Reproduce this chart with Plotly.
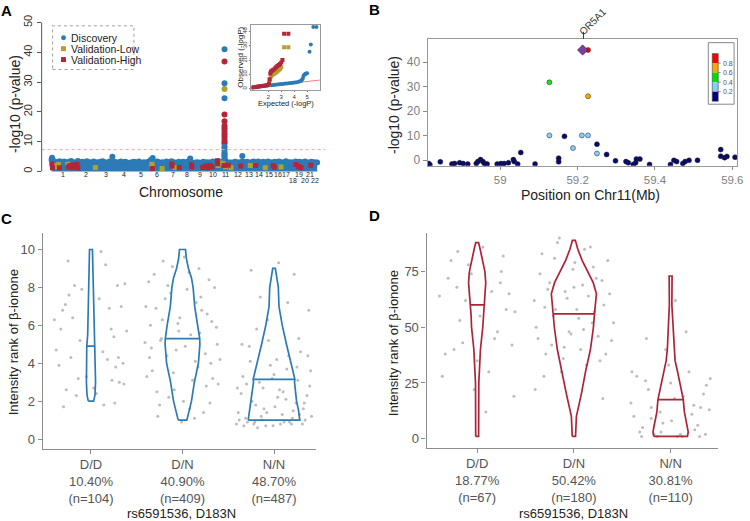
import numpy as np
import plotly.graph_objects as go

W, H = 750, 521
FONT = "Liberation Sans, Arial, sans-serif"
BLUE = "#2C7BB6"
OLIVE = "#B3A02C"
RED = "#B3263A"
CBLUE = "#2B7BB5"
DRED = "#AD2437"
GREY_PT = "#BDBDBD"

# ---------------- Panel A: Manhattan ----------------
CHR_NAMES = [str(i) for i in range(1, 23)]
CHR_LEN = [249, 243, 198, 191, 181, 171, 159, 146, 141, 136, 135, 134,
           115, 107, 102, 90, 81, 78, 59, 63, 48, 51]
BAND_TOP = [
    [3.9, 3.2, 3.0, 3.4, 3.1, 3.3, 2.9, 3.2, 3.5, 3.0],
    [3.1, 3.5, 3.0, 3.2, 2.9, 3.4, 3.1, 3.0, 3.3, 3.1],
    [3.0, 3.2, 3.4, 3.1, 2.9, 3.3, 3.0, 3.2],
    [3.1, 2.9, 3.3, 3.0, 3.2, 3.0, 2.8, 3.1],
    [3.2, 3.0, 3.3, 2.9, 3.1, 3.0, 3.2],
    [3.8, 3.1, 3.0, 3.3, 2.9, 3.1, 3.0],
    [3.3, 3.0, 3.4, 3.1, 2.9, 3.2],
    [3.0, 3.2, 2.9, 3.3, 3.6, 3.0],
    [2.9, 3.1, 3.0, 2.8, 3.2, 3.0],
    [3.1, 3.0, 3.3, 3.0, 3.4],
    [3.2, 3.0, 3.6, 3.1, 3.0],
    [3.0, 3.2, 3.0, 3.1, 3.3],
    [3.0, 3.2, 2.9, 3.1, 3.3],
    [3.1, 3.3, 3.0, 3.2],
    [3.0, 3.3, 3.1, 3.0],
    [3.2, 3.0, 3.3, 3.1],
    [3.0, 3.4, 3.1],
    [3.1, 3.0, 3.3],
    [3.0, 3.2, 3.0],
    [3.1, 3.3, 3.0],
    [3.0, 3.2],
    [3.1, 3.0],
]
PEAK_CHR = [1, 3, 6, 8, 12]
PEAK_POS = [5, 167, 34, 110, 117]
PEAK_Y = [4.6, 4.9, 4.5, 4.3, 5.2]

TOWER_POS = 59.2  # chr11, Mb
TOWER_BLUE = [41.0, 29.6, 24.6, 8.3, 7.2, 6.0, 5.0, 4.4]
TOWER_RED = [36.9, 19.1, 16.8, 15.3, 14.2, 13.3, 12.5, 11.6, 10.3, 9.4, 5.5]
TOWER_OLIVE = [27.7, 14.7, 11.0, 9.8, 8.0, 6.5]

VH_CHR = [1, 1, 1, 1, 1, 1, 1, 2, 2, 2, 6, 7, 7, 7, 8, 8, 9, 9, 10, 10, 10, 10, 10,
          11, 11, 12, 14, 15, 16, 18, 19, 19, 21]
VH_POS = [3, 10, 85, 180, 200, 220, 240, 10, 25, 35, 30, 70, 72, 150, 125, 128, 100, 130,
          15, 40, 60, 118, 120, 55, 100, 100, 12, 95, 5, 70, 20, 45, 30]
VH_Y = [2.5, 1.2, 1.2, 1.5, 2.0, 1.2, 2.2, 1.6, 2.4, 1.1, 1.0, 2.5, 1.8, 1.3, 2.2, 1.5, 1.3, 1.8,
        1.2, 2.0, 1.5, 3.6, 2.6, 2.0, 2.1, 1.8, 2.0, 2.0, 1.4, 2.3, 1.6, 1.2, 2.1]
VL_CHR = [1, 1, 1, 1, 2, 6, 6, 6, 7, 10, 10, 11, 11, 11, 13, 15, 16]
VL_POS = [30, 60, 75, 175, 225, 25, 28, 135, 105, 30, 125, 40, 70, 130, 70, 10, 78]
VL_Y = [2.0, 1.5, 2.3, 2.4, 1.3, 2.4, 1.6, 1.0, 1.3, 1.6, 2.0, 2.8, 1.5, 1.2, 2.0, 1.2, 1.5]
GW_LINE = 7.3

# QQ inset
QQ_BLUE_X = [0.75, 0.9, 1.05, 1.2, 1.35, 1.5, 1.65, 1.8, 1.95, 2.1, 2.25, 2.4, 2.55, 2.7, 2.85,
             3.0, 3.15, 3.3, 3.45, 3.6, 3.75, 3.9, 4.05, 4.2, 4.35, 4.45, 4.55, 4.62, 4.68, 4.73,
             4.8, 4.87, 4.93, 5.0, 5.19, 5.29, 5.48, 5.73]
QQ_BLUE_Y = [0.6, 0.8, 1.0, 1.2, 1.4, 1.6, 1.8, 2.0, 2.1, 2.3, 2.4, 2.6, 2.7, 2.9, 3.0,
             3.2, 3.3, 3.5, 3.6, 3.8, 3.9, 4.1, 4.3, 4.5, 4.8, 5.1, 5.5, 6.3, 7.5, 9.0,
             9.8, 10.3, 10.6, 10.8, 25.7, 30.8, 43.0, 43.0]
QQ_RED_X = [0.75, 0.9, 1.05, 1.2, 1.35, 1.5, 1.65, 1.8, 1.95, 2.05, 2.1, 2.15, 2.2, 2.3, 2.4,
            2.5, 2.6, 2.7, 2.8, 2.9, 3.0, 3.09, 3.22, 3.55]
QQ_RED_Y = [0.8, 1.0, 1.2, 1.4, 1.6, 1.8, 2.0, 2.2, 2.6, 3.5, 6.5, 10.5, 12.0, 12.6, 13.2,
            14.0, 15.0, 15.8, 16.5, 17.3, 18.2, 20.0, 38.4, 38.4]
QQ_OLIVE_X = [2.05, 2.1, 2.2, 2.3, 2.4, 2.5, 2.6, 2.7, 2.8, 2.9, 3.0, 3.22, 3.55]
QQ_OLIVE_Y = [3.0, 6.0, 8.5, 9.5, 10.2, 10.8, 11.4, 12.0, 12.8, 13.8, 15.0, 29.0, 29.0]

# ---------------- Panel B: regional plot ----------------
B_NAVY_X = [58.815, 58.818, 58.845, 58.875, 58.882, 58.895, 58.904, 58.916, 58.938, 58.942,
            58.949, 58.955, 58.959, 58.966, 58.992, 59.002, 59.010, 59.021, 59.034, 59.036,
            59.045, 59.053, 59.090, 59.151, 59.151, 59.166, 59.250, 59.275, 59.298, 59.325,
            59.331, 59.344, 59.350, 59.352, 59.361, 59.386, 59.440, 59.449, 59.456, 59.472,
            59.478, 59.488, 59.510, 59.570, 59.570, 59.580, 59.586, 59.607]
B_NAVY_Y = [-1.4, -1.9, -0.7, -1.6, -1.4, -1.1, -1.4, -1.6, -1.4, -0.6,
            0.2, -0.6, -1.4, -1.6, -1.6, -1.4, -1.4, -1.1, 0.2, -0.6,
            -1.6, 3.1, -1.6, 0.8, -0.7, 9.7, 6.5, 2.3, -0.3, -0.6,
            -1.1, -1.8, -1.1, 0.4, 0.4, -1.8, -1.8, -0.1, -0.6, -1.4,
            -0.6, -0.1, -0.1, 4.3, 1.6, 1.0, 1.5, 1.2]
B_LB_X = [59.127, 59.188, 59.211, 59.227, 59.250]
B_LB_Y = [10.1, 4.9, 10.1, 10.1, 2.7]
B_GREEN_X, B_GREEN_Y = [59.127], [31.8]
B_ORANGE_X, B_ORANGE_Y = [59.227], [26.1]
B_RED_X, B_RED_Y = [59.227], [45.0]
B_LEAD_X, B_LEAD_Y = [59.213], [45.0]
GENE_NAME, GENE_POS = "OR5A1", 59.215
LD_COLORS = ["#FF0000", "#FFA500", "#00E000", "#87CEFA", "#000080"]
LD_LABELS = ["0.8", "0.6", "0.4", "0.2"]

# ---------------- Panels C & D: violins ----------------
GENO = ["D/D", "D/N", "N/N"]
C_PCT = ["10.40%", "40.90%", "48.70%"]
C_N = [104, 409, 487]
D_PCT = ["18.77%", "50.42%", "30.81%"]
D_N = [67, 180, 110]
C_MED = [4.9, 5.3, 3.15]
D_MED = [60, 56, 17.5]

# violin outlines: rank values and half-widths (in category units)
C_V_Y = [
    [2, 2.3, 3, 4, 4.9, 5.5, 7, 9, 10],
    [1, 1.5, 2, 3, 4, 5, 5.3, 6, 7, 8, 8.5, 9, 9.5, 10],
    [1, 1.5, 2, 2.5, 3, 3.15, 4, 5, 6, 7, 8, 8.5, 9],
]
C_V_W = [
    [0.029, 0.043, 0.050, 0.052, 0.046, 0.036, 0.027, 0.022, 0.016],
    [0.047, 0.073, 0.098, 0.130, 0.174, 0.190, 0.188, 0.168, 0.133, 0.116, 0.098, 0.065, 0.043, 0.033],
    [0.282, 0.268, 0.246, 0.235, 0.224, 0.228, 0.184, 0.136, 0.090, 0.054, 0.047, 0.033, 0.014],
]
D_V_Y = [
    [1, 10, 25, 40, 50, 55, 60, 65, 70, 75, 80, 85, 88],
    [1, 10, 20, 25, 30, 40, 50, 56, 60, 65, 70, 75, 80, 85, 89],
    [1, 3, 5, 8, 12, 17.5, 20, 25, 30, 35, 40, 50, 60, 73],
]
D_V_W = [
    [0.015, 0.016, 0.017, 0.034, 0.058, 0.062, 0.072, 0.082, 0.089, 0.080, 0.059, 0.031, 0.015],
    [0.017, 0.026, 0.077, 0.099, 0.120, 0.171, 0.202, 0.213, 0.226, 0.233, 0.200, 0.141, 0.085, 0.041, 0.015],
    [0.174, 0.182, 0.174, 0.162, 0.142, 0.131, 0.120, 0.097, 0.072, 0.046, 0.034, 0.026, 0.013, 0.015],
]

# jittered raw points (offset from category centre, value)
C_DD_DX = [-0.38, -0.31, -0.25, -0.18, -0.12, -0.05, 0.03, 0.09, 0.16, 0.22, 0.29, 0.35, -0.35, -0.27,
           -0.2, -0.1, 0.06, 0.13, 0.2, 0.27, 0.33, 0.39, -0.4, -0.3, -0.22, -0.14, 0.11, 0.18, 0.25,
           0.31, 0.37, -0.33, -0.24, -0.16, 0.14, 0.23, 0.3, 0.36, -0.28, 0.26]
C_DD_Y = [4.7, 6.8, 9.4, 8.1, 5.2, 3.3, 2.7, 7.4, 9.2, 5.8, 8.1, 4.0, 3.9, 2.6, 6.4, 7.9, 2.4, 4.6,
          6.9, 3.8, 7.0, 5.7, 6.3, 1.7, 4.3, 3.2, 9.9, 4.2, 5.4, 3.0, 8.2, 5.8, 7.6, 2.3, 1.8, 3.1,
          4.3, 2.9, 7.1, 1.9]
C_DN_DX = [-0.41, -0.37, -0.33, -0.29, -0.25, -0.21, -0.17, -0.13, -0.09, -0.05, -0.01, 0.03, 0.07,
           0.11, 0.15, 0.19, 0.23, 0.27, 0.31, 0.35, 0.39,
           -0.39, -0.35, -0.31, -0.27, -0.23, -0.19, -0.15, -0.11, -0.07, -0.03, 0.01, 0.05, 0.09,
           0.13, 0.17, 0.21, 0.25, 0.29, 0.33, 0.37, 0.41,
           -0.4, -0.34, -0.28, -0.22, -0.16, -0.1, -0.04, 0.02, 0.08, 0.14, 0.2, 0.26, 0.32, 0.38,
           -0.36, -0.24, 0.18, 0.3]
C_DN_Y = [5.1, 8.3, 3.6, 6.9, 1.8, 9.4, 4.4, 7.7, 2.6, 6.1, 0.9, 4.9, 8.8, 3.1, 7.2, 5.6, 1.4, 6.6,
          4.0, 8.0, 2.9,
          3.3, 6.0, 8.7, 1.2, 5.3, 7.4, 2.2, 9.1, 4.7, 6.4, 2.0, 7.9, 5.5, 1.1, 3.8, 6.8, 4.5, 8.4,
          3.2, 5.9, 4.2,
          7.0, 4.8, 2.5, 6.3, 8.1, 3.5, 5.7, 9.6, 1.6, 4.1, 7.5, 2.8, 6.2, 5.0, 4.3, 5.2, 9.0, 1.9]
C_NN_DX = [-0.41, -0.36, -0.31, -0.26, -0.21, -0.16, -0.11, -0.06, -0.01, 0.04, 0.09, 0.14, 0.19,
           0.24, 0.29, 0.34, 0.39,
           -0.39, -0.34, -0.29, -0.24, -0.19, -0.14, -0.09, -0.04, 0.01, 0.06, 0.11, 0.16, 0.21,
           0.26, 0.31, 0.36, 0.41,
           -0.4, -0.33, -0.27, -0.2, -0.13, -0.07, 0.0, 0.07, 0.13, 0.2, 0.27, 0.33, 0.4,
           -0.38, -0.3, -0.22, -0.15, -0.08, 0.03, 0.1, 0.17, 0.25, 0.32, 0.38,
           -0.35, -0.25, -0.12, 0.05, 0.15, 0.28, 0.37, -0.18, 0.22, -0.02]
C_NN_Y = [0.8, 2.4, 1.1, 4.1, 0.9, 3.0, 1.6, 5.2, 0.7, 2.2, 1.3, 3.7, 0.8, 1.9, 4.6, 1.0, 2.8,
          1.4, 3.3, 0.9, 2.0, 5.8, 1.2, 0.7, 3.9, 1.7, 2.6, 0.9, 4.4, 1.5, 3.1, 0.8, 2.3, 1.2,
          2.7, 0.7, 4.9, 1.8, 1.0, 6.3, 3.4, 0.8, 2.1, 1.1, 5.3, 1.9, 3.6,
          1.0, 2.9, 0.8, 7.5, 1.4, 4.2, 2.5, 0.9, 3.8, 1.6, 6.8,
          5.0, 8.9, 2.7, 9.3, 7.2, 1.3, 4.4, 0.6, 8.7, 3.2]
D_DD_DX = [-0.39, -0.33, -0.27, -0.21, -0.15, -0.09, -0.03, 0.03, 0.09, 0.15, 0.21, 0.27, 0.33, 0.39,
           -0.36, -0.3, -0.24, -0.18, -0.12, -0.06, 0.06, 0.12, 0.18, 0.24, 0.3, 0.36,
           -0.2, 0.0, 0.25, 0.38]
D_DD_Y = [64, 38, 80, 68, 43, 78, 22, 55, 12, 66, 48, 82, 65, 57,
          28, 72, 40, 53, 62, 74, 86, 30, 45, 70, 58, 42,
          84, 35, 75, 19]
D_DN_DX = [-0.41, -0.37, -0.33, -0.29, -0.25, -0.21, -0.17, -0.13, -0.09, -0.05, -0.01, 0.03, 0.07,
           0.11, 0.15, 0.19, 0.23, 0.27, 0.31, 0.35, 0.39,
           -0.39, -0.35, -0.31, -0.27, -0.23, -0.19, -0.15, -0.11, -0.07, -0.03, 0.01, 0.05, 0.09,
           0.13, 0.17, 0.21, 0.25, 0.29, 0.33, 0.37, 0.41,
           -0.4, -0.3, -0.2, -0.1, 0.0, 0.1, 0.2, 0.3]
D_DN_Y = [62, 45, 83, 38, 70, 55, 88, 30, 66, 48, 76, 58, 40, 85, 64, 52, 72, 35, 60, 80, 44,
          50, 74, 28, 67, 42, 58, 90, 36, 63, 47, 79, 54, 69, 33, 86, 57, 46, 71, 38, 65, 52,
          22, 59, 81, 41, 68, 49, 77, 18]
D_NN_DX = [-0.41, -0.35, -0.29, -0.23, -0.17, -0.11, -0.05, 0.01, 0.07, 0.13, 0.19, 0.25, 0.31, 0.37,
           -0.38, -0.32, -0.26, -0.2, -0.14, -0.08, -0.02, 0.04, 0.1, 0.16, 0.22, 0.28, 0.34, 0.4,
           -0.4, -0.3, -0.2, -0.1, 0.0, 0.12, 0.24, 0.36, -0.25, 0.05, 0.3, 0.41]
D_NN_Y = [16, 28, 5, 22, 2, 12, 40, 8, 1, 19, 30, 4, 14, 24,
          10, 3, 26, 14, 1, 7, 33, 18, 2, 48, 11, 6, 20, 13,
          30, 1, 9, 3, 25, 1, 15, 2, 45, 62, 1, 27]


def xf(p):
    return p / W


def yf(p):
    return 1 - p / H


fig = go.Figure()
shapes, annotations = [], []

# ---------- Panel A traces ----------
starts = np.concatenate([[0], np.cumsum(CHR_LEN)[:-1]])
centers = starts + np.array(CHR_LEN) / 2.0
env_x, env_y = [0.0], [BAND_TOP[0][0]]
for s, L, hs in zip(starts, CHR_LEN, BAND_TOP):
    n = len(hs)
    for j, h in enumerate(hs):
        env_x.append(s + L * (j + 0.5) / n)
        env_y.append(h)
env_x.append(float(sum(CHR_LEN)))
env_y.append(BAND_TOP[-1][-1])
fig.add_trace(go.Scatter(x=env_x, y=env_y, mode="lines+markers", fill="tozeroy", fillcolor=BLUE,
                         line=dict(width=0, color=BLUE), marker=dict(color=BLUE, size=6),
                         xaxis="x", yaxis="y", hoverinfo="skip"))
fig.add_trace(go.Scatter(x=[starts[c - 1] + p for c, p in zip(PEAK_CHR, PEAK_POS)], y=PEAK_Y,
                         mode="markers", marker=dict(color=BLUE, size=6), xaxis="x", yaxis="y"))
tx = starts[10] + TOWER_POS
fig.add_trace(go.Scatter(x=[starts[c - 1] + p for c, p in zip(VL_CHR, VL_POS)], y=VL_Y,
                         mode="markers", marker=dict(color=OLIVE, size=5, symbol="square"),
                         xaxis="x", yaxis="y"))
fig.add_trace(go.Scatter(x=[starts[c - 1] + p for c, p in zip(VH_CHR, VH_POS)], y=VH_Y,
                         mode="markers", marker=dict(color=RED, size=5, symbol="square"),
                         xaxis="x", yaxis="y"))
fig.add_trace(go.Scatter(x=[tx] * len(TOWER_OLIVE), y=TOWER_OLIVE, mode="markers",
                         marker=dict(color=OLIVE, size=6), xaxis="x", yaxis="y"))
fig.add_trace(go.Scatter(x=[tx] * len(TOWER_RED), y=TOWER_RED, mode="markers",
                         marker=dict(color=RED, size=6), xaxis="x", yaxis="y"))
fig.add_trace(go.Scatter(x=[tx] * len(TOWER_BLUE), y=TOWER_BLUE, mode="markers",
                         marker=dict(color=BLUE, size=6), xaxis="x", yaxis="y"))
shapes.append(dict(type="line", xref="paper", yref="y", x0=xf(42), x1=xf(328), y0=GW_LINE, y1=GW_LINE,
                   line=dict(color="#F4A0A0", width=1, dash="dot")))
shapes.append(dict(type="line", xref="paper", yref="y", x0=xf(42), x1=xf(42), y0=0, y1=50,
                   line=dict(color="#555", width=1)))
for i, name in enumerate(CHR_NAMES):
    low = name in ("18", "20", "22")
    annotations.append(dict(x=centers[i], y=yf(179.5 if low else 174), xref="x", yref="paper",
                            text=name, showarrow=False, font=dict(size=7, color="#222"),
                            xanchor="center", yanchor="middle"))

# QQ inset
fig.add_trace(go.Scatter(x=[0, 6.2], y=[0, 6.2], mode="lines", line=dict(color="#F08080", width=1),
                         xaxis="x2", yaxis="y2"))
fig.add_trace(go.Scatter(x=QQ_BLUE_X, y=QQ_BLUE_Y, mode="markers", marker=dict(color=BLUE, size=4),
                         xaxis="x2", yaxis="y2"))
fig.add_trace(go.Scatter(x=QQ_OLIVE_X, y=QQ_OLIVE_Y, mode="markers",
                         marker=dict(color=OLIVE, size=4, symbol="square"), xaxis="x2", yaxis="y2"))
fig.add_trace(go.Scatter(x=QQ_RED_X, y=QQ_RED_Y, mode="markers",
                         marker=dict(color=RED, size=4, symbol="square"), xaxis="x2", yaxis="y2"))

# legend (manual, dashed box)
shapes.append(dict(type="rect", xref="paper", yref="paper", x0=xf(53), x1=xf(135), y0=yf(68), y1=yf(24),
                   line=dict(color="#888", width=0.8, dash="dot")))
LEG = [("Discovery", BLUE, "circle"), ("Validation-Low", OLIVE, "square"),
       ("Validation-High", RED, "square")]
for k, (lab, col, sym) in enumerate(LEG):
    cy = 36 + k * 11
    shapes.append(dict(type="circle" if sym == "circle" else "rect", xref="paper", yref="paper",
                       x0=xf(61.5), x1=xf(66.5), y0=yf(cy + 2.5), y1=yf(cy - 2.5),
                       fillcolor=col, line=dict(width=0)))
    annotations.append(dict(x=xf(70), y=yf(cy), xref="paper", yref="paper", text=lab, showarrow=False,
                            xanchor="left", yanchor="middle", font=dict(size=10.5, color="#222")))

# ---------- Panel B traces ----------
def bpts(x, y, col, size=5, sym="circle"):
    fig.add_trace(go.Scatter(x=x, y=y, mode="markers", xaxis="x3", yaxis="y3",
                             marker=dict(color=col, size=size, symbol=sym,
                                         line=dict(color="#222", width=0.5))))


bpts(B_NAVY_X, B_NAVY_Y, "#0A0A6E")
bpts(B_LB_X, B_LB_Y, "#87CEFA")
bpts(B_GREEN_X, B_GREEN_Y, "#1FE01F")
bpts(B_ORANGE_X, B_ORANGE_Y, "#FFA500")
bpts(B_RED_X, B_RED_Y, "#FF0000")
bpts(B_LEAD_X, B_LEAD_Y, "#7B3FA0", size=8, sym="diamond")
shapes.append(dict(type="line", xref="x3", yref="paper", x0=GENE_POS, x1=GENE_POS, y0=yf(37.3), y1=yf(30),
                   line=dict(color="#333", width=1)))
annotations.append(dict(x=GENE_POS + 0.024, y=yf(19.5), xref="x3", yref="paper", text=GENE_NAME,
                        textangle=-45, showarrow=False, font=dict(size=10, color="#333"),
                        xanchor="center", yanchor="middle"))
# LD colour key
shapes.append(dict(type="rect", xref="paper", yref="paper", x0=xf(714), x1=xf(740), y0=yf(103), y1=yf(41),
                   line=dict(color="#888", width=1), fillcolor="white"))
for k, col in enumerate(LD_COLORS):
    shapes.append(dict(type="rect", xref="paper", yref="paper", x0=xf(718), x1=xf(724),
                       y0=yf(52 + (k + 1) * 9.6), y1=yf(52 + k * 9.6), fillcolor=col, line=dict(width=0)))
for k, lab in enumerate(LD_LABELS):
    yy = 52 + (k + 1) * 9.6
    shapes.append(dict(type="line", xref="paper", yref="paper", x0=xf(724), x1=xf(726.5), y0=yf(yy), y1=yf(yy),
                       line=dict(color="#666", width=0.8)))
    annotations.append(dict(x=xf(727), y=yf(yy), xref="paper", yref="paper", text=lab, showarrow=False,
                            xanchor="left", yanchor="middle", font=dict(size=7, color="#555")))
shapes.append(dict(type="rect", xref="paper", yref="paper", x0=xf(718), x1=xf(724), y0=yf(100), y1=yf(52),
                   line=dict(color="#444", width=0.6)))

# ---------- Panels C & D ----------
def violin_panel(xa, ya, vy, vw, meds, col, pts):
    for i, (dx, yy) in enumerate(pts):
        fig.add_trace(go.Scatter(x=[i + d for d in dx], y=yy, mode="markers", xaxis=xa, yaxis=ya,
                                 marker=dict(color=GREY_PT, size=3)))
    for i in range(3):
        ys = np.array(vy[i], float)
        ws = np.array(vw[i], float)
        px = np.concatenate([i - ws, (i + ws)[::-1], [i - ws[0]]])
        py = np.concatenate([ys, ys[::-1], [ys[0]]])
        fig.add_trace(go.Scatter(x=px, y=py, mode="lines", xaxis=xa, yaxis=ya,
                                 line=dict(color=col, width=1.7)))
        wm = float(np.interp(meds[i], ys, ws))
        fig.add_trace(go.Scatter(x=[i - wm, i + wm], y=[meds[i], meds[i]], mode="lines", xaxis=xa, yaxis=ya,
                                 line=dict(color=col, width=1.7)))


violin_panel("x4", "y4", C_V_Y, C_V_W, C_MED, CBLUE,
             [(C_DD_DX, C_DD_Y), (C_DN_DX, C_DN_Y), (C_NN_DX, C_NN_Y)])
violin_panel("x5", "y5", D_V_Y, D_V_W, D_MED, DRED,
             [(D_DD_DX, D_DD_Y), (D_DN_DX, D_DN_Y), (D_NN_DX, D_NN_Y)])

C_TICKS = [f"{g}<br>{p}<br>(n={n})" for g, p, n in zip(GENO, C_PCT, C_N)]
D_TICKS = [f"{g}<br>{p}<br>(n={n})" for g, p, n in zip(GENO, D_PCT, D_N)]

# ---------- titles / labels ----------
def ann(x, y, text, size, color="#222", angle=0, bold=False):
    annotations.append(dict(x=xf(x), y=yf(y), xref="paper", yref="paper",
                            text=f"<b>{text}</b>" if bold else text, textangle=angle,
                            showarrow=False, xanchor="center", yanchor="middle",
                            font=dict(size=size, color=color, family=FONT)))


ann(7, 9, "A", 15, "#000", bold=True)
ann(378, 8, "B", 15, "#000", bold=True)
ann(7, 218, "C", 15, "#000", bold=True)
ann(378, 215, "D", 15, "#000", bold=True)
ann(15, 103, "-log10 (p-value)", 14, angle=-90)
ann(182, 191, "Chromosome", 14)
ann(243, 56, "Observed (-logP)", 8, angle=-90)
ann(288, 102.5, "Expected (-logP)", 7.5)
ann(397, 104, "-log10 (p-value)", 14, angle=-90)
ann(595, 194, "Position on Chr11(Mb)", 14)
ann(13, 343, "Intensity rank of β-ionone", 13, angle=-90)
ann(183, 515, "rs6591536, D183N", 13)
ann(397, 344, "Intensity rank of β-ionone", 13, angle=-90)
ann(578, 515, "rs6591536, D183N", 13)

noax = dict(showgrid=False, zeroline=False)
GREYAX = "#8C8C8C"
fig.update_layout(
    width=W, height=H, margin=dict(l=0, r=0, t=0, b=0),
    paper_bgcolor="white", plot_bgcolor="white", showlegend=False,
    font=dict(family=FONT, color="#222"),
    xaxis=dict(domain=[xf(42), xf(325)], range=[-107.5, 2935], showticklabels=False, ticks="",
               showline=False, **noax),
    yaxis=dict(domain=[yf(174), yf(15)], range=[-1.1, 51.9], tickvals=[0, 10, 20, 30, 40, 50],
               tickangle=-90, ticks="outside", ticklen=4, tickcolor="#555", showline=False,
               tickfont=dict(size=11, color="#333"), **noax),
    xaxis2=dict(domain=[xf(253.5), xf(322.3)], range=[0.69, 5.98], anchor="y2", tickvals=[2, 3, 4, 5],
                ticks="outside", ticklen=1, tickcolor="#777", showline=True, mirror=True, linecolor="#999",
                linewidth=1, tickfont=dict(size=6, color="#333"), **noax),
    yaxis2=dict(domain=[yf(88.3), yf(23.3)], range=[-0.7, 44.4], anchor="x2", tickvals=[0, 10, 20, 30, 40],
                tickangle=-90, ticks="outside", ticklen=1, tickcolor="#777", showline=True, mirror=True,
                linecolor="#999", linewidth=1, tickfont=dict(size=6, color="#333"), **noax),
    xaxis3=dict(domain=[xf(431), xf(743.3)], range=[58.812, 59.613], anchor="y3",
                tickvals=[59, 59.2, 59.4, 59.6], ticktext=["59", "59.2", "59.4", "59.6"],
                ticks="outside", ticklen=3, tickcolor="#888", showline=True, mirror=True, linecolor="#999",
                linewidth=1, tickfont=dict(size=11.5, color="#808080"), **noax),
    yaxis3=dict(domain=[yf(165), yf(37.3)], range=[-2.3, 49.5], anchor="x3", tickvals=[0, 10, 20, 30, 40],
                ticks="outside", ticklen=4, tickcolor="#888", showline=True, mirror=True, linecolor="#999",
                linewidth=1, tickfont=dict(size=12, color="#808080"), **noax),
    xaxis4=dict(domain=[xf(43), xf(318.3)], range=[-0.528, 2.456], anchor="y4", tickvals=[0, 1, 2],
                ticktext=C_TICKS, ticks="outside", ticklen=4, tickcolor=GREYAX, showline=True,
                linecolor=GREYAX, linewidth=1.2, tickfont=dict(size=13, color="#555"), **noax),
    yaxis4=dict(domain=[yf(450), yf(233)], range=[-0.5, 10.86], anchor="x4", tickvals=[0, 2, 4, 6, 8, 10],
                ticks="outside", ticklen=4, tickcolor=GREYAX, showline=True, linecolor=GREYAX, linewidth=1.2,
                tickfont=dict(size=13, color="#555"), **noax),
    xaxis5=dict(domain=[xf(430), xf(724)], range=[-0.523, 2.492], anchor="y5", tickvals=[0, 1, 2],
                ticktext=D_TICKS, ticks="outside", ticklen=4, tickcolor=GREYAX, showline=True,
                linecolor=GREYAX, linewidth=1.2, tickfont=dict(size=13, color="#555"), **noax),
    yaxis5=dict(domain=[yf(449), yf(233)], range=[-4.0, 92.2], anchor="x5", tickvals=[0, 25, 50, 75],
                ticks="outside", ticklen=4, tickcolor=GREYAX, showline=True, linecolor=GREYAX, linewidth=1.2,
                tickfont=dict(size=13, color="#555"), **noax),
    shapes=shapes, annotations=annotations,
)
fig.update_traces(hoverinfo="skip")
fig.write_html("out.html", config={"displayModeBar": False},
               post_script="document.body.style.margin='0';document.body.style.overflow='hidden';")
